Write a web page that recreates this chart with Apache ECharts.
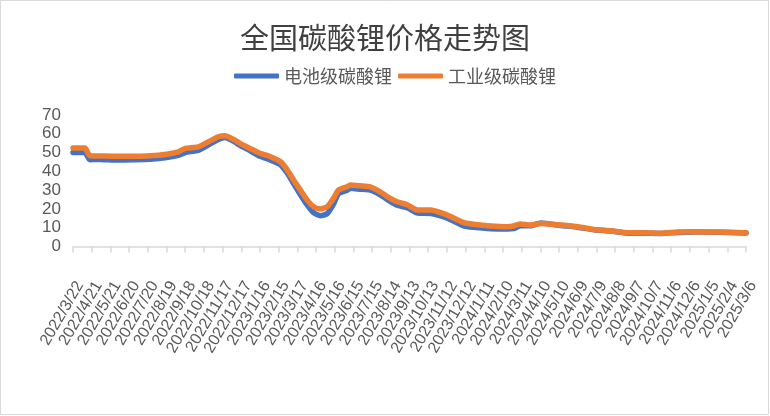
<!DOCTYPE html>
<html>
<head>
<meta charset="utf-8">
<script src="https://cdn.jsdelivr.net/npm/echarts@6/dist/echarts.min.js"></script>
<style>html,body{margin:0;padding:0;background:#fff}#c{width:770px;height:416px}</style>
</head>
<body>
<div id="c"></div>
<script>
const title = '全国碳酸锂价格走势图';
const seriesNames = ['电池级碳酸锂', '工业级碳酸锂'];
const startDate = '2022/3/22';
const dates = ['2022/3/22','2022/4/10','2022/4/18','2022/5/4','2022/5/28','2022/6/25','2022/7/24','2022/8/17','2022/9/7','2022/9/18','2022/10/9','2022/10/25','2022/11/10','2022/11/21','2022/12/7','2022/12/15','2022/12/31','2023/1/16','2023/2/2','2023/2/18','2023/3/1','2023/3/11','2023/3/22','2023/4/2','2023/4/12','2023/4/23','2023/5/4','2023/5/14','2023/5/22','2023/6/5','2023/6/10','2023/6/26','2023/7/12','2023/7/28','2023/8/13','2023/8/24','2023/9/10','2023/9/26','2023/10/17','2023/11/2','2023/11/18','2023/12/9','2023/12/25','2024/1/21','2024/2/17','2024/2/27','2024/3/9','2024/3/25','2024/4/11','2024/5/13','2024/6/9','2024/7/5','2024/8/1','2024/8/28','2024/9/23','2024/10/20','2024/11/17','2024/12/12','2025/1/9','2025/2/5','2025/3/6'];
const batteryGrade = [50.1,50.1,46.2,46.3,46,46.2,46.5,47.2,48.5,50,51.2,54,57,58,55.6,53.8,51,48,46,43.5,39,33.5,27.5,22,18,16.4,17.5,22.5,28,30,31,30.5,30,27.5,24,22,20.5,17.8,17.6,16.3,14.3,11,10.2,9.5,9.3,9.5,11,11,12.5,11.2,10.3,8.9,8.2,7.1,7.1,6.9,7.5,7.7,7.6,7.5,7.2];
const industrialGrade = [52.4,52.4,48.3,48.2,48,48,48.3,49,50.4,52.2,53,55.7,58.4,59,56.6,54.9,52.2,49.6,47.8,45.1,40.7,35.4,30,24.7,21.2,20,21.2,25.6,30,31.8,32.7,32.3,31.8,29.1,25.6,23.8,22.1,19.4,19.4,18,15.9,12.7,11.8,10.9,10.5,10.9,12,11.4,12.3,11.4,10.5,9.1,8.4,7.3,7.3,7,7.7,7.9,7.7,7.6,7.3];
const tickLabels = ['2022/3/22','2022/4/21','2022/5/21','2022/6/20','2022/7/20','2022/8/19','2022/9/18','2022/10/18','2022/11/17','2022/12/17','2023/1/16','2023/2/15','2023/3/17','2023/4/16','2023/5/16','2023/6/15','2023/7/15','2023/8/14','2023/9/13','2023/10/13','2023/11/12','2023/12/12','2024/1/11','2024/2/10','2024/3/11','2024/4/10','2024/5/10','2024/6/9','2024/7/9','2024/8/8','2024/9/7','2024/10/7','2024/11/6','2024/12/6','2025/1/5','2025/2/4','2025/3/6'];
const yTicks = [0,10,20,30,40,50,60,70];

function dayIndex(s){
  const p = s.split('/').map(Number), q = startDate.split('/').map(Number);
  return Math.round((Date.UTC(p[0],p[1]-1,p[2]) - Date.UTC(q[0],q[1]-1,q[2]))/86400000);
}
const xs = dates.map(dayIndex);
const chart = echarts.init(document.getElementById('c'));
chart.setOption({
  backgroundColor:'#fff',
  animation:false,
  title:{text:title,left:'center',top:18,textStyle:{fontFamily:'Noto Sans CJK SC',fontSize:29,fontWeight:'normal',color:'#404040'}},
  legend:{top:62,left:229,itemGap:6,itemWidth:45,itemHeight:5,icon:'roundRect',
    textStyle:{fontFamily:'Noto Sans CJK SC',fontSize:18,color:'#595959'},data:seriesNames},
  grid:{left:73,right:24,top:115,bottom:169.5},
  xAxis:{type:'value',min:0,max:(tickLabels.length-1)*30,interval:30,
    axisLine:{show:true,lineStyle:{color:'#D9D9D9',width:1.5}},
    axisTick:{show:true,length:6,lineStyle:{color:'#D9D9D9',width:1.5}},
    splitLine:{show:false},
    axisLabel:{rotate:60,margin:32,fontSize:16,color:'#595959',fontFamily:'Liberation Sans',verticalAlign:'top',
      hideOverlap:false,interval:0,
      showMaxLabel:true,showMinLabel:true,formatter:v=>tickLabels[Math.round(v/30)]||''}},
  yAxis:{type:'value',min:yTicks[0],max:yTicks[yTicks.length-1],interval:10,
    axisLine:{show:false},axisTick:{show:false},splitLine:{show:false},
    axisLabel:{margin:12,fontSize:17,color:'#595959',fontFamily:'Liberation Sans'}},
  series:[
    {name:seriesNames[0],type:'line',showSymbol:false,smooth:0.2,data:xs.map((x,i)=>[x,batteryGrade[i]]),
      lineStyle:{color:'#4472C4',width:5.5,cap:'round',join:'round'},itemStyle:{color:'#4472C4'}},
    {name:seriesNames[1],type:'line',showSymbol:false,smooth:0.2,data:xs.map((x,i)=>[x,industrialGrade[i]]),
      lineStyle:{color:'#ED7D31',width:5.5,cap:'round',join:'round'},itemStyle:{color:'#ED7D31'}}
  ],
  graphic:[{type:'rect',silent:true,shape:{x:0.5,y:0.5,width:768,height:414},style:{fill:'none',stroke:'#D9D9D9',lineWidth:1}}]
});
</script>
</body>
</html>
